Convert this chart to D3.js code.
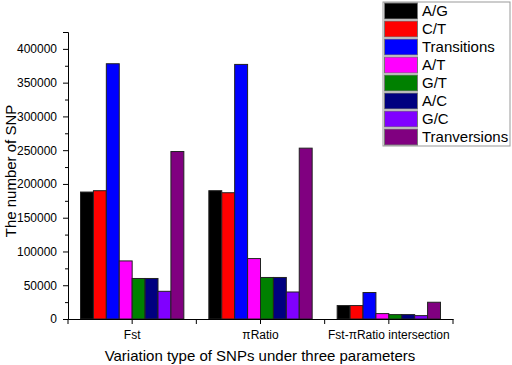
<!DOCTYPE html>
<html>
<head>
<meta charset="utf-8">
<script src="https://cdn.jsdelivr.net/npm/d3@7"></script>
<style>
  body { margin: 0; background: #fff; }
  svg { display: block; font-family: "Liberation Sans", Arial, sans-serif; }
</style>
</head>
<body>
<div id="canvas"></div>
<script>
"use strict";

// Chart data
let groups = ["Fst", "\u03c0Ratio", "Fst-\u03c0Ratio intersection"];
let seriesNames = ["A/G", "C/T", "Transitions", "A/T", "G/T", "A/C", "G/C", "Tranversions"];
let seriesColors = ["#000000", "#ff0000", "#0000ff", "#ff00ff", "#008000", "#000080", "#8000ff", "#800080"];
let fstValues = [188000, 190000, 378000, 86000, 60000, 60000, 41000, 248000];
let piRatioValues = [190000, 187000, 377000, 89500, 61500, 61500, 40000, 253000];
let intersectionValues = [19900, 19900, 39200, 8000, 6500, 6500, 5000, 24800];
let yTickValues = [0, 50000, 100000, 150000, 200000, 250000, 300000, 350000, 400000];
let yMinorTicks = [25000, 75000, 125000, 175000, 225000, 275000, 325000, 375000, 425000];

let svgWidth = 512;
let svgHeight = 365;
let margin = { top: 32, left: 68, right: 59, bottom: 46 };
let plotRight = svgWidth - margin.right;
let plotBottom = svgHeight - margin.bottom;

let svg = d3.select("#canvas")
    .append("svg")
    .attr("width", svgWidth)
    .attr("height", svgHeight);

// Build rows from the named arrays
let allValues = [fstValues, piRatioValues, intersectionValues];
let rows = groups.map(function(g, i) {
    return { group: g, values: seriesNames.map(function(s, j) { return { name: s, value: allValues[i][j] }; }) };
});

// Scales
let x0 = d3.scaleBand()
    .domain(groups)
    .range([margin.left, plotRight])
    .padding(0);

let x1 = d3.scaleBand()
    .domain(seriesNames)
    .range([12.5, x0.bandwidth() - 12.5])
    .padding(0);

let y = d3.scaleLinear()
    .domain([0, 425000])
    .range([plotBottom, margin.top]);

let color = d3.scaleOrdinal()
    .domain(seriesNames)
    .range(seriesColors);

// Bars
let groupSel = svg.selectAll("g.group")
    .data(rows)
    .join("g")
    .attr("class", "group")
    .attr("transform", function(d) { return "translate(" + x0(d.group) + ",0)"; });

groupSel.selectAll("rect")
    .data(function(d) { return d.values; })
    .join("rect")
    .attr("x", function(d) { return x1(d.name); })
    .attr("y", function(d) { return y(d.value); })
    .attr("width", x1.bandwidth())
    .attr("height", function(d) { return plotBottom - y(d.value); })
    .attr("fill", function(d) { return color(d.name); })
    .attr("stroke", "#222")
    .attr("stroke-width", 1);

// Y axis (major + minor ticks)
let yAxis = svg.append("g")
    .attr("transform", "translate(" + margin.left + ",0)")
    .call(d3.axisLeft(y).tickValues(yTickValues).tickFormat(d3.format("d")).tickSize(5).tickPadding(6));

svg.append("g")
    .attr("transform", "translate(" + margin.left + ",0)")
    .call(d3.axisLeft(y).tickValues(yMinorTicks).tickFormat("").tickSize(3))
    .select(".domain").remove();

yAxis.selectAll("text")
    .style("font-size", "12px")
    .style("font-family", "Liberation Sans, Arial, sans-serif")
    .attr("fill", "#000");

// X axis: ticks at group centres plus group boundaries
let xAxis = svg.append("g")
    .attr("transform", "translate(0," + plotBottom + ")")
    .call(d3.axisBottom(x0).tickSize(5).tickPadding(6).tickSizeOuter(0));

xAxis.selectAll("text")
    .style("font-size", "12px")
    .style("font-family", "Liberation Sans, Arial, sans-serif")
    .attr("fill", "#000");

let boundaries = [margin.left].concat(groups.slice(1).map(function(g) { return x0(g); })).concat([plotRight]);
svg.append("g")
    .selectAll("line")
    .data(boundaries)
    .join("line")
    .attr("x1", function(d) { return d; })
    .attr("x2", function(d) { return d; })
    .attr("y1", plotBottom)
    .attr("y2", plotBottom + 5)
    .attr("stroke", "#000");

// Axis titles
svg.append("text")
    .attr("x", 260)
    .attr("y", 361)
    .attr("text-anchor", "middle")
    .style("font-size", "15px")
    .text("Variation type of SNPs under three parameters");

svg.append("text")
    .attr("transform", "translate(16,171) rotate(-90)")
    .attr("text-anchor", "middle")
    .style("font-size", "15px")
    .text("The number of SNP");

// Legend
let legendX = 383;
let legendY = 2;
let rowH = 18;

svg.append("rect")
    .attr("x", legendX)
    .attr("y", legendY)
    .attr("width", 127)
    .attr("height", rowH * seriesNames.length)
    .attr("fill", "#fff")
    .attr("stroke", "#999")
    .attr("stroke-width", 1);

let legendItems = svg.selectAll("g.legendItem")
    .data(seriesNames)
    .join("g")
    .attr("class", "legendItem")
    .attr("transform", function(d, i) { return "translate(" + legendX + "," + (legendY + i * rowH) + ")"; });

legendItems.append("rect")
    .attr("x", 1.5)
    .attr("y", 1)
    .attr("width", 33)
    .attr("height", rowH - 2)
    .attr("fill", function(d) { return color(d); })
    .attr("stroke", "#777")
    .attr("stroke-width", 1);

legendItems.append("text")
    .attr("x", 39)
    .attr("y", rowH - 4)
    .style("font-size", "15px")
    .text(function(d) { return d; });
</script>
</body>
</html>
